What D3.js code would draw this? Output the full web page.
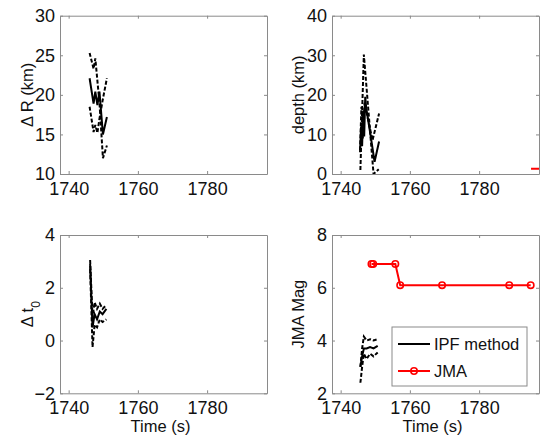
<!DOCTYPE html>
<html>
<head>
<meta charset="utf-8">
<script src="https://cdn.jsdelivr.net/npm/d3@7"></script>
<style>
  body { margin: 0; background: #fff; }
  svg { display: block; font-family: "Liberation Sans", Arial, sans-serif; }
</style>
</head>
<body>
<svg id="chart" width="540" height="437"></svg>
<script>
// shared x range (s)
const timeDomain = [1737.5, 1797.3];
const timeTicks = [1740, 1760, 1780];

// delta R (km)
const dRTime = [1746.05, 1747.2, 1747.7, 1748.3, 1748.9, 1749.9, 1751.05];
const dRMain = [22.1, 18.9, 20.4, 18.7, 20.4, 15.0, 17.2];
const dRUpper = [25.3, 23.3, 24.6, 21.8, 19.0, 12.0, 13.6];
const dRLower = [18.5, 15.3, 16.2, 15.2, 17.0, 19.5, 22.1];

// depth (km)
const depthTime = [1745.6, 1745.9, 1746.2, 1746.5, 1746.8, 1747.1, 1747.4, 1748.6, 1749.8, 1751.1];
const depthMain = [5.5, 12.0, 7.0, 16.0, 9.5, 19.5, 16.5, 10.0, 3.1, 8.2];
const depthDashATime = [1745.7, 1746.7, 1749.5, 1751.0];
const depthDashA = [1.0, 30.2, 0.0, 1.2];
const depthDashBTime = [1745.6, 1746.0, 1746.4, 1746.9, 1749.2, 1751.1];
const depthDashB = [6.0, 17.0, 9.0, 18.0, 8.5, 15.3];
const jmaDepthTime = [1795.0, 1800.0];
const jmaDepth = [1.3, 1.3];

// delta t0
const t0Time = [1746.2, 1746.9, 1747.5, 1748.2, 1749.0, 1749.8, 1750.9];
const t0Main = [2.9, 0.5, 1.0, 0.8, 1.1, 1.0, 1.2];
const t0Upper = [3.05, 0.9, 1.45, 1.2, 1.4, 1.2, 1.35];
const t0Lower = [2.7, -0.25, 0.6, 0.5, 0.8, 0.7, 0.8];

// magnitude
const magTime = [1745.7, 1746.2, 1746.7, 1747.5, 1748.5, 1749.5, 1750.7];
const magMain = [3.0, 3.4, 3.7, 3.7, 3.75, 3.7, 3.8];
const magUpper = [3.0, 3.7, 4.15, 4.0, 4.05, 4.0, 4.05];
const magLower = [2.4, 3.0, 3.5, 3.3, 3.5, 3.4, 3.55];
const jmaTime = [1748.9, 1749.4, 1755.8, 1757.2, 1769.3, 1788.7, 1794.9];
const jmaMag = [6.9, 6.9, 6.9, 6.1, 6.1, 6.1, 6.1];

const legendLabels = ["IPF method", "JMA"];

const svg = d3.select("#chart");
const axisColor = "#8a8a8a";

function zip(ts, vs) {
  return ts.map((t, i) => ({ t: t, v: vs[i] }));
}

const panels = [
  { id: "dr", x: [60, 267], y: [15.7, 174], domain: [10, 30], ticks: [10, 15, 20, 25, 30],
    label: "Δ R (km)", labelX: 27, xLabel: false,
    lines: [
      { data: zip(dRTime, dRUpper), dash: true },
      { data: zip(dRTime, dRLower), dash: true },
      { data: zip(dRTime, dRMain) }
    ] },
  { id: "depth", x: [332, 539], y: [15.7, 174], domain: [0, 40], ticks: [0, 10, 20, 30, 40],
    label: "depth (km)", labelX: 298, xLabel: false,
    lines: [
      { data: zip(depthDashATime, depthDashA), dash: true },
      { data: zip(depthDashBTime, depthDashB), dash: true },
      { data: zip(depthTime, depthMain) },
      { data: zip(jmaDepthTime, jmaDepth), color: "#ff0000" }
    ] },
  { id: "t0", x: [60, 267], y: [235, 393.3], domain: [-2, 4], ticks: [-2, 0, 2, 4],
    label: "t0", labelX: 27, xLabel: true,
    lines: [
      { data: zip(t0Time, t0Upper), dash: true },
      { data: zip(t0Time, t0Lower), dash: true },
      { data: zip(t0Time, t0Main) }
    ] },
  { id: "mag", x: [332, 539], y: [235, 393.3], domain: [2, 8], ticks: [2, 4, 6, 8],
    label: "JMA Mag", labelX: 298, xLabel: true, legend: true,
    lines: [
      { data: zip(magTime, magUpper), dash: true },
      { data: zip(magTime, magLower), dash: true },
      { data: zip(magTime, magMain) },
      { data: zip(jmaTime, jmaMag), color: "#ff0000", markers: true }
    ] }
];

const fmt = d3.format("d");

panels.forEach(p => {
  const x = d3.scaleLinear().domain(timeDomain).range(p.x);
  const y = d3.scaleLinear().domain(p.domain).range([p.y[1], p.y[0]]);
  const g = svg.append("g");

  g.append("clipPath").attr("id", "clip-" + p.id)
    .append("rect")
    .attr("x", p.x[0]).attr("y", p.y[0])
    .attr("width", p.x[1] - p.x[0]).attr("height", p.y[1] - p.y[0]);

  // tick marks inside on all four sides
  const tickLen = 3;
  const axB = g.append("g").attr("transform", `translate(0,${p.y[1]})`)
    .call(d3.axisBottom(x).tickValues(timeTicks).tickFormat(fmt)
      .tickSizeInner(-tickLen).tickSizeOuter(0).tickPadding(8));
  const axT = g.append("g").attr("transform", `translate(0,${p.y[0]})`)
    .call(d3.axisTop(x).tickValues(timeTicks).tickSizeInner(-tickLen).tickSizeOuter(0).tickFormat(""));
  const axL = g.append("g").attr("transform", `translate(${p.x[0]},0)`)
    .call(d3.axisLeft(y).tickValues(p.ticks).tickFormat(fmt)
      .tickSizeInner(-tickLen).tickSizeOuter(0).tickPadding(5));
  const axR = g.append("g").attr("transform", `translate(${p.x[1]},0)`)
    .call(d3.axisRight(y).tickValues(p.ticks).tickSizeInner(-tickLen).tickSizeOuter(0).tickFormat(""));
  [axB, axT, axL, axR].forEach(a => {
    a.select(".domain").attr("stroke", axisColor);
    a.selectAll(".tick line").attr("stroke", axisColor);
    a.selectAll("text").attr("fill", "#111").style("font-size", "18px");
  });

  // y label
  const yl = g.append("text")
    .attr("transform", `translate(${p.labelX},${(p.y[0] + p.y[1]) / 2}) rotate(-90)`)
    .attr("text-anchor", "middle")
    .attr("dy", "0.35em")
    .style("font-size", "16.5px")
    .attr("fill", "#111");
  if (p.label === "t0") {
    yl.text("Δ t");
    yl.append("tspan").attr("baseline-shift", "sub").style("font-size", "12px").text("0");
  } else {
    yl.text(p.label);
  }

  if (p.xLabel) {
    g.append("text")
      .attr("x", (p.x[0] + p.x[1]) / 2 - 3)
      .attr("y", p.y[1] + 39)
      .attr("text-anchor", "middle")
      .style("font-size", "16.5px")
      .attr("fill", "#111")
      .text("Time (s)");
  }

  const line = d3.line().x(d => x(d.t)).y(d => y(d.v));
  const plot = g.append("g").attr("clip-path", `url(#clip-${p.id})`);
  p.lines.forEach(s => {
    plot.append("path")
      .attr("d", line(s.data))
      .attr("fill", "none")
      .attr("stroke", s.color || "#000")
      .attr("stroke-width", 2)
      .attr("stroke-dasharray", s.dash ? "4,2" : null);
    if (s.markers) {
      plot.selectAll(null).data(s.data).enter().append("circle")
        .attr("cx", d => x(d.t)).attr("cy", d => y(d.v))
        .attr("r", 3.2)
        .attr("fill", "none")
        .attr("stroke", s.color)
        .attr("stroke-width", 1.6);
    }
  });

  if (p.legend) {
    const lg = g.append("g").attr("transform", "translate(392,327)");
    lg.append("rect").attr("width", 135).attr("height", 59)
      .attr("fill", "#fff").attr("stroke", axisColor);
    lg.append("line").attr("x1", 6).attr("x2", 38).attr("y1", 17).attr("y2", 17)
      .attr("stroke", "#000").attr("stroke-width", 2);
    lg.append("line").attr("x1", 6).attr("x2", 38).attr("y1", 44).attr("y2", 44)
      .attr("stroke", "#ff0000").attr("stroke-width", 2);
    lg.append("circle").attr("cx", 22).attr("cy", 44).attr("r", 3.2)
      .attr("fill", "none").attr("stroke", "#ff0000").attr("stroke-width", 1.6);
    lg.selectAll("text.lbl").data(legendLabels).enter().append("text")
      .attr("class", "lbl")
      .attr("x", 42)
      .attr("y", (d, i) => 17 + i * 27)
      .attr("dy", "0.35em")
      .style("font-size", "16.5px")
      .attr("fill", "#111")
      .text(d => d);
  }
});
</script>
</body>
</html>
